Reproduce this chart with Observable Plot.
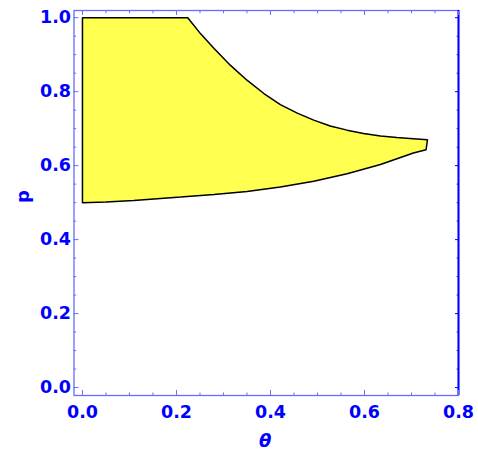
<!DOCTYPE html>
<html><head><meta charset="utf-8">
<script src="https://cdn.jsdelivr.net/npm/d3@7"></script>
<script src="https://cdn.jsdelivr.net/npm/@observablehq/plot@0.6"></script>
<style>body{margin:0;background:#fff}</style>
</head><body><div id="chart"></div>
<script>
// Region boundary (θ, p), traced clockwise from (0, 0.5)
const thetaVals = [0, 0, 0.224, 0.251, 0.280, 0.315, 0.350, 0.386, 0.421, 0.457, 0.492, 0.527, 0.563, 0.598, 0.634, 0.669, 0.704, 0.734,
                   0.731, 0.704, 0.634, 0.563, 0.492, 0.421, 0.350, 0.280, 0.209, 0.109, 0.050, 0];
const pVals     = [0.5, 1.0, 1.0, 0.957, 0.917, 0.871, 0.831, 0.795, 0.765, 0.742, 0.723, 0.707, 0.696, 0.687, 0.680, 0.676, 0.673, 0.670,
                   0.643, 0.634, 0.603, 0.578, 0.558, 0.542, 0.530, 0.522, 0.515, 0.506, 0.502, 0.5];
const xMajor = [0, 0.2, 0.4, 0.6, 0.8];
const xMinor = [0.05, 0.1, 0.15, 0.25, 0.3, 0.35, 0.45, 0.5, 0.55, 0.65, 0.7, 0.75];
const yMajor = [0, 0.2, 0.4, 0.6, 0.8, 1.0];
const yMinor = [0.05, 0.1, 0.15, 0.25, 0.3, 0.35, 0.45, 0.5, 0.55, 0.65, 0.7, 0.75, 0.85, 0.9, 0.95];
const xDomain = [-0.018, 0.8];
const yDomain = [-0.0215, 1.0195];
const xLabel = "θ";
const yLabel = "p";

const region = thetaVals.map((t, i) => ({theta: t, p: pVals[i]}));
const frameColor = "#6a6aff";
const labelColor = "#0000ff";
const fmt = d3.format(".1f");

const chart = Plot.plot({
  width: 478,
  height: 452,
  marginLeft: 73.5,
  marginRight: 20,
  marginTop: 10,
  marginBottom: 57,
  style: {fontFamily: "DejaVu Sans", fontSize: "17.5px", fontWeight: "bold", background: "white"},
  x: {domain: xDomain},
  y: {domain: yDomain},
  marks: [
    Plot.line(region, {x: "theta", y: "p", fill: "#ffff50", stroke: "black", strokeWidth: 1.5, strokeLinejoin: "miter"}),
    Plot.frame({stroke: frameColor, strokeWidth: 1.3}),
    Plot.ruleX([xDomain[1]], {stroke: labelColor, strokeWidth: 2}),
    // bottom
    Plot.axisX(xMajor, {anchor: "bottom", tickSize: -5, text: null, stroke: frameColor, label: null}),
    Plot.axisX(xMinor, {anchor: "bottom", tickSize: -2.5, text: null, stroke: frameColor, label: null}),
    Plot.axisX(xMajor, {anchor: "bottom", tickSize: 0, tickPadding: 10, tickFormat: fmt, fill: labelColor, label: null}),
    // top
    Plot.axisX(xMajor, {anchor: "top", tickSize: -4, text: null, stroke: frameColor, label: null}),
    Plot.axisX(xMinor, {anchor: "top", tickSize: -2.3, text: null, stroke: frameColor, label: null}),
    // left
    Plot.axisY(yMajor, {anchor: "left", tickSize: -5, text: null, stroke: frameColor, label: null}),
    Plot.axisY(yMinor, {anchor: "left", tickSize: -2.7, text: null, stroke: frameColor, label: null}),
    Plot.axisY(yMajor, {anchor: "left", tickSize: 0, tickPadding: 3, tickFormat: fmt, fill: labelColor, label: null}),
    // right
    Plot.axisY(yMajor, {anchor: "right", tickSize: -4, text: null, stroke: labelColor, label: null}),
    Plot.axisY(yMinor, {anchor: "right", tickSize: -2.3, text: null, stroke: labelColor, label: null}),
    // axis titles
    Plot.text([yLabel], {frameAnchor: "left", dx: -51, rotate: -90, text: d => d, fill: labelColor, fontSize: 18, lineAnchor: "middle"}),
    Plot.text([xLabel], {frameAnchor: "bottom", dy: 46, dx: -1, text: d => d, fill: labelColor, fontSize: 18, fontStyle: "italic", lineAnchor: "middle"})
  ]
});
document.getElementById("chart").appendChild(chart);
</script>
</body></html>
